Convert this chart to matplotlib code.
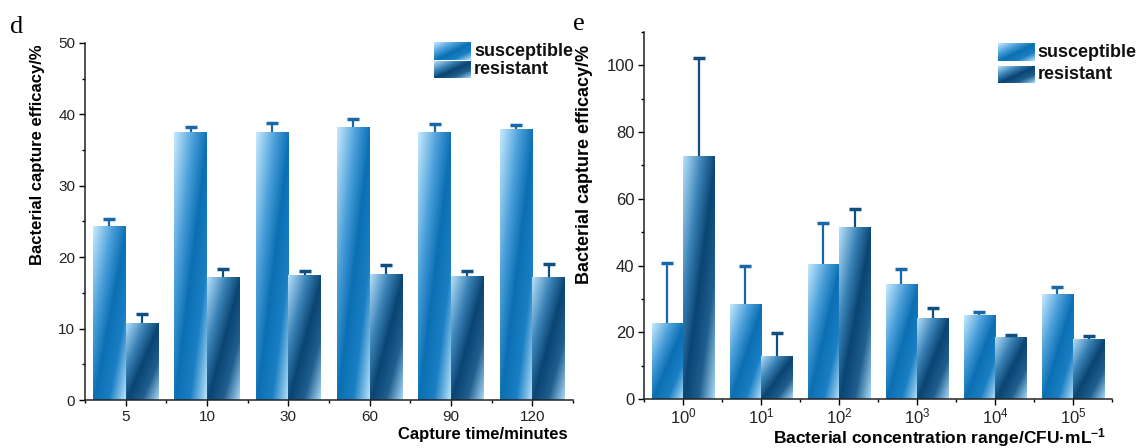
import numpy as np
import matplotlib
matplotlib.use('Agg')
import matplotlib.pyplot as plt
from matplotlib.colors import LinearSegmentedColormap
from matplotlib.ticker import MultipleLocator, FixedLocator

plt.rcParams['font.family'] = 'Liberation Sans'
plt.rcParams['mathtext.fontset'] = 'custom'
plt.rcParams['mathtext.rm'] = 'Liberation Sans'
plt.rcParams['mathtext.bf'] = 'Liberation Sans:bold'
plt.rcParams['mathtext.it'] = 'Liberation Sans:italic'

# panel d: capture time
time_labels = ['5', '10', '30', '60', '90', '120']
time_susc = [24.3, 37.6, 37.6, 38.3, 37.5, 38.0]
time_susc_err = [1.0, 0.6, 1.2, 1.0, 1.1, 0.5]
time_res = [10.8, 17.2, 17.5, 17.7, 17.4, 17.2]
time_res_err = [1.2, 1.1, 0.6, 1.2, 0.7, 1.8]

# panel e: concentration
conc_labels = ['$10^{0}$', '$10^{1}$', '$10^{2}$', '$10^{3}$', '$10^{4}$', '$10^{5}$']
conc_susc = [22.7, 28.5, 40.6, 34.4, 25.1, 31.4]
conc_susc_err = [18.0, 11.5, 12.2, 4.7, 0.9, 2.1]
conc_res = [72.9, 13.0, 51.5, 24.4, 18.7, 18.0]
conc_res_err = [29.3, 6.9, 5.6, 2.8, 0.4, 0.9]

cmap_susc = LinearSegmentedColormap.from_list('susc', [
    (0.0, '#c6e9fd'), (0.3, '#4a9fda'), (0.52, '#0b6fb3'),
    (0.75, '#1a7fc4'), (1.0, '#b8e2fb')])
cmap_res = LinearSegmentedColormap.from_list('res', [
    (0.0, '#b6e0fa'), (0.3, '#3a82b6'), (0.52, '#0a4472'),
    (0.75, '#1f5f8f'), (1.0, '#aad9f6')])

N = 64
uu, vv = np.meshgrid(np.linspace(0, 1, N), np.linspace(0, 1, N))
grad = (uu - vv + 1) / 2


def gradient_bars(ax, bars, cmap):
    for b in bars:
        x0, y0 = b.get_xy()
        w, h = b.get_width(), b.get_height()
        b.set_facecolor('none')
        b.set_edgecolor('none')
        im = ax.imshow(grad, cmap=cmap, vmin=0, vmax=1, origin='lower',
                       extent=[x0, x0 + w, y0, y0 + h], aspect='auto',
                       interpolation='bilinear', zorder=2)
        im.set_clip_path(b)


def legend_box(ax, x0, x1, y0, y1, cmap, label):
    ax.imshow(grad, cmap=cmap, vmin=0, vmax=1, origin='lower',
              extent=[x0, x1, y0, y1], aspect='auto', interpolation='bilinear',
              transform=ax.transAxes, clip_on=False, zorder=5)
    ax.text(x1 + 0.008, (y0 + y1) / 2, label, transform=ax.transAxes,
            fontsize=13, fontweight='bold', va='center', ha='left', color='#111111')


def plus_errorbar(ax, x, y, err, color):
    eb = ax.errorbar(x, y, yerr=[np.zeros(len(x)), err], fmt='none',
                     ecolor=color, elinewidth=1.6, capsize=4, capthick=2.5, zorder=3)
    # only the upper cap, like the original
    eb[1][0].set_visible(False)


def draw_panel(ax, labels, susc, susc_err, res, res_err, ymax, ymaj, tsize):
    x = np.arange(len(labels))
    w = 0.4
    b1 = ax.bar(x - w / 2, susc, w, zorder=2)
    b2 = ax.bar(x + w / 2, res, w, zorder=2)
    gradient_bars(ax, b1, cmap_susc)
    gradient_bars(ax, b2, cmap_res)
    plus_errorbar(ax, x - w / 2, susc, susc_err, '#1868a8')
    plus_errorbar(ax, x + w / 2, res, res_err, '#0e4f80')
    ax.set_xlim(-0.5, len(labels) - 0.5)
    ax.set_ylim(0, ymax)
    ax.set_xticks(x)
    ax.set_xticklabels(labels)
    ax.xaxis.set_minor_locator(FixedLocator(np.arange(-0.5, len(labels), 1.0)))
    ax.yaxis.set_major_locator(MultipleLocator(ymaj))
    ax.yaxis.set_minor_locator(MultipleLocator(ymaj / 2))
    for s in ['top', 'right']:
        ax.spines[s].set_visible(False)
    for s in ['left', 'bottom']:
        ax.spines[s].set_linewidth(1.1)
        ax.spines[s].set_color('#222222')
    ax.tick_params(which='major', direction='out', length=4, width=1.0,
                   labelsize=tsize, labelcolor='#222222', pad=3)
    ax.tick_params(which='minor', direction='out', length=2.5, width=1.0)


fig = plt.figure(figsize=(11.4, 4.48), dpi=100)
ax1 = fig.add_axes([0.0746, 0.1071, 0.428, 0.797])
ax2 = fig.add_axes([0.565, 0.1094, 0.4105, 0.819])

draw_panel(ax1, time_labels, time_susc, time_susc_err, time_res, time_res_err, 50, 10, 11)
draw_panel(ax2, conc_labels, conc_susc, conc_susc_err, conc_res, conc_res_err, 110, 20, 12)
ax2.set_yticks([0, 20, 40, 60, 80, 100])
ax2.tick_params(axis='x', which='major', pad=1.5)

ax1.set_xlabel('Capture time/minutes', fontsize=12, fontweight='bold', ha='right', va='top')
ax1.xaxis.set_label_coords(0.99, -0.075)
ax1.set_ylabel('Bacterial capture efficacy/%', fontsize=12, fontweight='bold')
ax1.yaxis.set_label_coords(-0.082, 0.686)

ax2.set_xlabel('Bacterial concentration range/CFU·mL$^{\\mathbf{-1}}$', fontsize=12.5,
               fontweight='bold', ha='right', va='top')
ax2.xaxis.set_label_coords(0.987, -0.073)
ax2.set_ylabel('Bacterial capture efficacy/%', fontsize=13, fontweight='bold')
ax2.yaxis.set_label_coords(-0.11, 0.638)

legend_box(ax1, 0.715, 0.789, 0.952, 1.0, cmap_susc, 'susceptible')
legend_box(ax1, 0.715, 0.789, 0.902, 0.947, cmap_res, 'resistant')
legend_box(ax2, 0.756, 0.833, 0.921, 0.970, cmap_susc, 'susceptible')
legend_box(ax2, 0.756, 0.833, 0.861, 0.907, cmap_res, 'resistant')

ax1.set_xlim(-0.5, 5.5)
ax1.set_ylim(0, 50)
ax2.set_xlim(-0.5, 5.5)
ax2.set_ylim(0, 110)

fig.text(10 / 1140, 1 - 33 / 448, 'd', family='Liberation Serif', fontsize=19, va='baseline')
fig.text(573 / 1140, 1 - 30 / 448, 'e', family='Liberation Serif', fontsize=19, va='baseline')

fig.savefig('out.png', dpi=100)
